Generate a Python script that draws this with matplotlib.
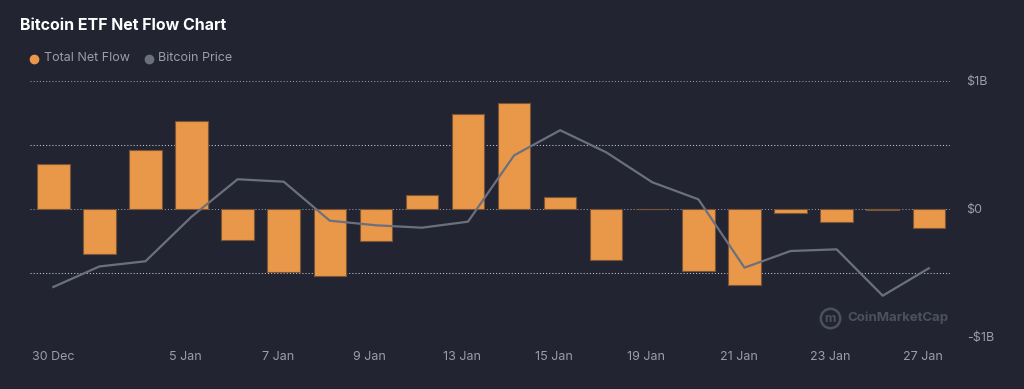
import matplotlib
matplotlib.use('Agg')
import matplotlib.pyplot as plt
from matplotlib.lines import Line2D

# data
dates = ['30 Dec', '31 Dec', '2 Jan', '3 Jan', '6 Jan', '7 Jan', '8 Jan', '9 Jan', '10 Jan', '13 Jan',
         '14 Jan', '15 Jan', '16 Jan', '17 Jan', '20 Jan', '21 Jan', '22 Jan', '23 Jan', '24 Jan', '27 Jan']
net_flow = [0.349, -0.352, 0.463, 0.686, -0.243, -0.489, -0.520, -0.250, 0.110, 0.741,
            0.826, 0.095, -0.396, 0.0, -0.481, -0.590, -0.035, -0.105, -0.005, -0.152]  # $B
btc_price = [93000, 94700, 95130, 98820, 101920, 101720, 98490, 98110, 97910, 98410,
             103900, 105980, 104150, 101670, 100260, 94600, 95980, 96120, 92280, 94550]
tick_idx = [0, 3, 5, 7, 9, 11, 13, 15, 17, 19]
tick_labels = ['30 Dec', '5 Jan', '7 Jan', '9 Jan', '13 Jan', '15 Jan', '19 Jan', '21 Jan', '23 Jan', '27 Jan']
y_ticks = [1, 0, -1]
y_labels = ['$1B', '$0', '-$1B']

BG = '#222531'
ORANGE = '#E99749'
GREY_TXT = '#9b9ea8'
LINE = '#6b707e'

plt.rcParams['font.family'] = ['Inter', 'DejaVu Sans']

fig = plt.figure(figsize=(10.24, 3.89), dpi=100, facecolor=BG)
ax = fig.add_axes([30 / 1024, 52 / 389, 920 / 1024, 256 / 389])
ax.set_facecolor(BG)

x = list(range(len(dates)))
ax.bar(x, net_flow, width=0.705, color=ORANGE, edgecolor='#7a5434', linewidth=0.8, zorder=3)

for v in [1, 0.5, 0, -0.5, -1]:
    col = '#c9cacf' if abs(v) == 0.5 else '#9a9ca4'
    ax.axhline(v, color=col, lw=0.75, ls=(0, (1, 2)), zorder=1)

ax.set_xlim(-0.506, 19.46)
ax.set_ylim(-1, 1)
ax.set_xticks([i - 0.13 if i else 0 for i in tick_idx])
ax.set_xticklabels(tick_labels)

ax2 = ax.twinx()
ax2.plot(x, btc_price, color=LINE, lw=1.6, zorder=4)
ax2.set_ylim(88860, 110057)
ax2.axis('off')

# price axis is hidden, flow labels go on the right
ax.yaxis.tick_right()
ax.set_yticks(y_ticks)
ax.set_yticklabels(y_labels)
ax.tick_params(axis='both', length=0, colors=GREY_TXT, labelsize=9)
ax.tick_params(axis='x', pad=10)
ax.tick_params(axis='y', pad=12)
for lab in ax.get_yticklabels():
    lab.set_horizontalalignment('left')
for s in ax.spines.values():
    s.set_visible(False)

fig.text(20 / 1024, 1 - 25 / 389, 'Bitcoin ETF Net Flow Chart', color='white',
         fontsize=11.5, fontweight='bold', va='center', ha='left')

# legend
fig.add_artist(Line2D([34 / 1024], [1 - 58.5 / 389], marker='o', ms=6, color=ORANGE,
                      lw=0, transform=fig.transFigure))
fig.text(44 / 1024, 1 - 58 / 389, 'Total Net Flow', color=GREY_TXT, fontsize=9, va='center')
fig.add_artist(Line2D([149 / 1024], [1 - 58.5 / 389], marker='o', ms=6, color=LINE,
                      lw=0, transform=fig.transFigure))
fig.text(158 / 1024, 1 - 58 / 389, 'Bitcoin Price', color=GREY_TXT, fontsize=9, va='center')

# watermark
fig.add_artist(Line2D([830 / 1024], [1 - 318 / 389], marker='o', ms=14, mfc='none', mec='#4c505d',
                      mew=1.8, lw=0, transform=fig.transFigure))
fig.text(830 / 1024, 1 - 319 / 389, 'm', color='#4c505d', fontsize=9, fontweight='bold',
         ha='center', va='center')
fig.text(847 / 1024, 1 - 318 / 389, 'CoinMarketCap', color='#4c505d', fontsize=9.5,
         fontweight='bold', va='center')

fig.savefig('out.png', dpi=100, facecolor=BG)
